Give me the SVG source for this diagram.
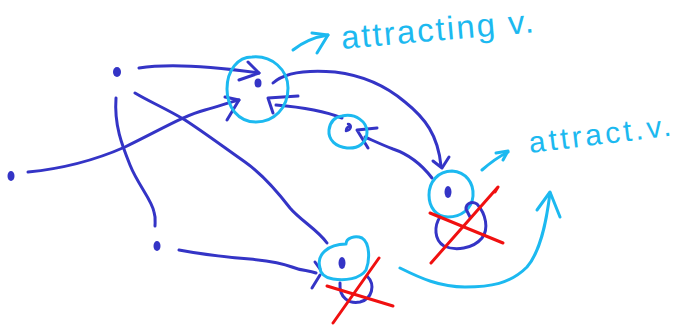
<svg xmlns="http://www.w3.org/2000/svg" width="677" height="325" viewBox="0 0 677 325">
<style>
.b{fill:none;stroke:#3434c6;stroke-width:3;stroke-linecap:round;stroke-linejoin:round}
.c{fill:none;stroke:#1cb9f0;stroke-width:3;stroke-linecap:round;stroke-linejoin:round}
.r{fill:none;stroke:#f01010;stroke-width:3;stroke-linecap:round;stroke-linejoin:round}
.dot{fill:#3434c6}
.lbl{fill:#1cb9f0;font-family:"Liberation Sans","DejaVu Sans",sans-serif}
</style>
<rect width="677" height="325" fill="#fff"/>
<g id="connectors">
  <!-- A -> N1 -->
  <path class="b" d="M139,68 C170,63 210,66 259,73"/>
  <path class="b" d="M248,62 L259,73 L239,80"/>
  <!-- B -> N1 -->
  <path class="b" d="M28,172 C70,168 100,158 125,147 C160,130 185,115 205,110 C220,106 230,102 239,100"/>
  <path class="b" d="M225,97 L239,100 L227,120"/>
  <!-- A -> C -->
  <path class="b" d="M116,98 C114,125 122,145 130,165 C138,185 152,200 154,212 C156,218 155,222 155,226"/>
  <!-- A -> N4 -->
  <path class="b" d="M135,93 C150,102 165,108 185,120 C205,133 225,148 245,162 C265,176 280,195 290,208 C300,220 318,230 327,243"/>
  <!-- C -> N4 -->
  <path class="b" d="M179,250 C200,254 225,257 250,259 C270,261 282,263 292,267 C302,271 308,270 316,273"/>
  <path class="b" d="M315,262 L320,269"/>
  <path class="b" d="M320,275 L312,288"/>
  <!-- N1 -> N3 -->
  <path class="b" d="M273,83 C285,72 310,70 335,72 C360,75 385,85 405,102 C425,118 438,135 441,166"/>
  <path class="b" d="M433,161 L442,168 L449,157"/>
  <!-- N2 -> N1 -->
  <path class="b" d="M276,105 C300,107 322,110 342,118"/>
  <path class="b" d="M298,96 L268,98 L273,113"/>
  <!-- N3 -> N2 -->
  <path class="b" d="M432,178 C422,165 408,154 393,149 C380,144 372,140 365,137"/>
  <path class="b" d="M377,128 L357,130 L368,148"/>
  <!-- N4 -> N3 (attract) -->
  <path class="c" d="M400,268 C420,278 440,287 465,287 C490,287 510,284 527,267 C540,252 546,225 550,193"/>
  <path class="c" d="M537,210 L550,192 L560,217"/>
</g>
<g id="nodeA"><ellipse class="dot" cx="117" cy="72" rx="4" ry="5"/></g>
<g id="nodeB"><ellipse class="dot" cx="11" cy="176" rx="3.5" ry="5"/></g>
<g id="nodeC"><ellipse class="dot" cx="157" cy="246" rx="3.5" ry="5"/></g>
<g id="node1">
  <path class="c" d="M252,57 C272,55 288,70 288,88 C288,108 274,122 256,122 C238,122 227,107 227,89 C227,70 238,57 252,57 Z"/>
  <ellipse class="dot" cx="258" cy="83" rx="3.5" ry="4.5"/>
</g>
<g id="node2">
  <path class="c" d="M342,116 C356,113 367,122 367,132 C367,143 358,149 347,148 C336,147 328,140 329,130 C330,122 335,117 342,116 Z"/>
  <path class="b" d="M348,124 C352,124 352,130 346,131 M350,126 C347,127 346,129 346,131" style="stroke-width:2.5"/>
</g>
<g id="node3">
  <path class="c" d="M452,171 C466,172 474,183 473,196 C472,209 461,217 448,217 C436,217 429,207 429,195 C429,182 438,171 452,171 Z"/>
  <ellipse class="dot" cx="448" cy="192" rx="3.5" ry="6"/>
  <path class="b" d="M440,217 C434,226 434,240 444,246 C455,251 473,249 482,238 C489,229 486,214 477,204 C472,201 466,203 466,209 L470,217"/>
  <path class="r" d="M430,213 L503,243"/>
  <path class="r" d="M431,263 L498,187 L495,192"/>
</g>
<g id="node4">
  <path class="c" d="M320,268 C316,255 328,244 346,244 C346,238 355,235 362,238 C370,243 370,260 366,270 C360,279 345,281 333,279 C325,278 320,273 320,268 Z"/>
  <ellipse class="dot" cx="342" cy="263" rx="3.5" ry="6"/>
  <path class="b" d="M340,283 C339,298 349,304 360,302 C372,299 376,285 367,276"/>
  <path class="r" d="M327,286 L393,306"/>
  <path class="r" d="M333,323 L379,258"/>
</g>
<g id="label1">
  <path class="c" d="M293,50 C303,42 315,37 328,35"/>
  <path class="c" d="M312,33 L328,35 L317,53"/>
  <text class="lbl" font-size="33" transform="translate(342,49) rotate(-5)" textLength="193" lengthAdjust="spacing">attracting v.</text>
</g>
<g id="label2">
  <path class="c" d="M482,170 C490,163 498,157 508,152"/>
  <path class="c" d="M496,153 L508,151 L503,160"/>
  <text class="lbl" font-size="30" transform="translate(530,153) rotate(-7)" textLength="143" lengthAdjust="spacing">attract.v.</text>
</g>
</svg>
